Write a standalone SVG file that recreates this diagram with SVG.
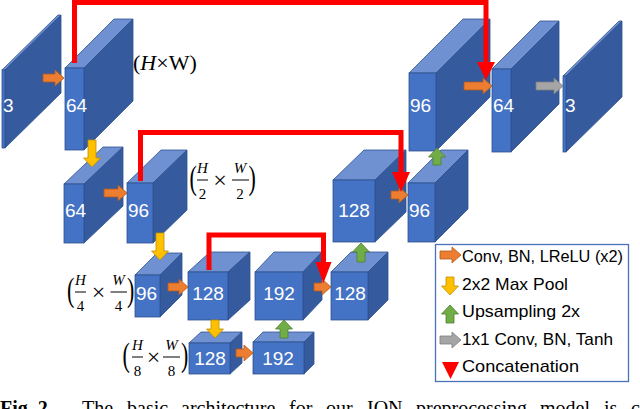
<svg xmlns="http://www.w3.org/2000/svg" width="640" height="409" viewBox="0 0 640 409">
<style>
.f{fill:#4472C4;stroke:#2F528F;stroke-width:0.8}
.t{fill:#6F91D2;stroke:#2F528F;stroke-width:0.8}
.s{fill:#355B9E;stroke:#2F528F;stroke-width:0.8}
.lb{font-family:"Liberation Sans",Arial,sans-serif;font-size:19px;fill:#FFFFFF}
.m{font-family:"Liberation Serif","Times New Roman",serif;fill:#000000}
.i{font-style:italic}
.p{font-family:"Liberation Serif","Times New Roman",serif;fill:#000000;font-size:22px}
.or{fill:#ED7D31;stroke:#AE5A21;stroke-width:0.8}
.ye{fill:#FFC000;stroke:#BF9000;stroke-width:0.8}
.gr{fill:#70AD47;stroke:#507E32;stroke-width:0.8}
.gy{fill:#A5A5A5;stroke:#7F7F7F;stroke-width:0.8}
.red{fill:none;stroke:#FF0000;stroke-width:5}
.rh{fill:#FF0000}
.bar{stroke:#000;stroke-width:1}
.lg{font-family:"Liberation Sans",Arial,sans-serif;font-size:17px;fill:#000}
.cap{font-family:"Liberation Serif","Times New Roman",serif;font-size:20px;fill:#000}
</style>

<g id="nodes">
<g id="b1"><polygon class="t" points="2,70 58,15 61,15 5,70"/><polygon class="s" points="5,70 61,15 61,93 5,148"/><rect class="f" x="2" y="70" width="3" height="78"/><text class="lb" x="3" y="112">3</text></g>
<g id="b2"><polygon class="t" points="65,68 114,19 133,19 84,68"/><polygon class="s" points="84,68 133,19 133,101 84,150"/><rect class="f" x="65" y="68" width="19" height="82"/><text class="lb" x="66" y="112">64</text></g>
<g id="b3"><polygon class="t" points="64,184 103,147 123,147 84,184"/><polygon class="s" points="84,184 123,147 123,206 84,243"/><rect class="f" x="64" y="184" width="20" height="59"/><text class="lb" x="65" y="217">64</text></g>
<g id="b4"><polygon class="t" points="127,183 161,150 187,150 153,183"/><polygon class="s" points="153,183 187,150 187,210 153,243"/><rect class="f" x="127" y="183" width="26" height="60"/><text class="lb" x="128" y="217">96</text></g>
<g id="b5"><polygon class="t" points="135,275 157,253 182,253 160,275"/><polygon class="s" points="160,275 182,253 182,295 160,317"/><rect class="f" x="135" y="275" width="25" height="42"/><text class="lb" x="136" y="300">96</text></g>
<g id="b6"><polygon class="t" points="188,272 210,252 250,252 228,272"/><polygon class="s" points="228,272 250,252 250,300 228,320"/><rect class="f" x="188" y="272" width="40" height="48"/><text class="lb" x="208" y="300" text-anchor="middle">128</text></g>
<g id="b7"><polygon class="t" points="255,272 274,252 322,252 303,272"/><polygon class="s" points="303,272 322,252 322,300 303,320"/><rect class="f" x="255" y="272" width="48" height="48"/><text class="lb" x="279" y="300" text-anchor="middle">192</text></g>
<g id="b8"><polygon class="t" points="331,272 351,252 388,252 368,272"/><polygon class="s" points="368,272 388,252 388,300 368,320"/><rect class="f" x="331" y="272" width="37" height="48"/><text class="lb" x="350" y="300" text-anchor="middle">128</text></g>
<g id="b9"><polygon class="t" points="333,180 364,150 406,150 375,180"/><polygon class="s" points="375,180 406,150 406,212 375,242"/><rect class="f" x="333" y="180" width="42" height="62"/><text class="lb" x="354" y="217" text-anchor="middle">128</text></g>
<g id="b10"><polygon class="t" points="408,183 441,150 468,150 435,183"/><polygon class="s" points="435,183 468,150 468,209 435,242"/><rect class="f" x="408" y="183" width="27" height="59"/><text class="lb" x="409" y="217">96</text></g>
<g id="b11"><polygon class="t" points="409,73 463,19 490,19 436,73"/><polygon class="s" points="436,73 490,19 490,97 436,151"/><rect class="f" x="409" y="73" width="27" height="78"/><text class="lb" x="410" y="112">96</text></g>
<g id="b12"><polygon class="t" points="492,69 540,21 559,21 511,69"/><polygon class="s" points="511,69 559,21 559,104 511,152"/><rect class="f" x="492" y="69" width="19" height="83"/><text class="lb" x="493" y="112">64</text></g>
<g id="b13"><polygon class="t" points="563,76 619,21 622,21 566,76"/><polygon class="s" points="566,76 622,21 622,97 566,152"/><rect class="f" x="563" y="76" width="3" height="76"/><text class="lb" x="565" y="112">3</text></g>
<g id="b14"><polygon class="t" points="189,343 201,332 242,332 230,343"/><polygon class="s" points="230,343 242,332 242,363 230,374"/><rect class="f" x="189" y="343" width="41" height="31"/><text class="lb" x="210" y="365" text-anchor="middle">128</text></g>
<g id="b15"><polygon class="t" points="253,342 263,332 314,332 304,342"/><polygon class="s" points="304,342 314,332 314,364 304,374"/><rect class="f" x="253" y="342" width="51" height="32"/><text class="lb" x="278" y="365" text-anchor="middle">192</text></g>
</g>

<g id="dims">
<text class="m" x="133" y="70" font-size="22">(<tspan class="i">H</tspan>×W)</text>
<g id="d2">
<text class="p" transform="translate(189.5,189) scale(1,1.5)">(</text>
<text class="m i" x="202.5" y="173" font-size="15" text-anchor="middle">H</text>
<line class="bar" x1="197" y1="180" x2="208" y2="180"/>
<text class="m" x="202.5" y="199" font-size="15" text-anchor="middle">2</text>
<text class="m" x="220" y="188" font-size="24" text-anchor="middle">×</text>
<text class="m i" x="240" y="173" font-size="15" text-anchor="middle">W</text>
<line class="bar" x1="232" y1="180" x2="249" y2="180"/>
<text class="m" x="240" y="199" font-size="15" text-anchor="middle">2</text>
<text class="p" transform="translate(248.5,189) scale(1,1.5)">)</text>
</g>
<g id="d4">
<text class="p" transform="translate(67,301) scale(1,1.5)">(</text>
<text class="m i" x="80.5" y="285" font-size="15" text-anchor="middle">H</text>
<line class="bar" x1="75" y1="292" x2="86" y2="292"/>
<text class="m" x="80.5" y="311" font-size="15" text-anchor="middle">4</text>
<text class="m" x="98.5" y="300" font-size="24" text-anchor="middle">×</text>
<text class="m i" x="118.5" y="285" font-size="15" text-anchor="middle">W</text>
<line class="bar" x1="110.5" y1="292" x2="127" y2="292"/>
<text class="m" x="118.5" y="311" font-size="15" text-anchor="middle">4</text>
<text class="p" transform="translate(127,301) scale(1,1.5)">)</text>
</g>
<g id="d8">
<text class="p" transform="translate(122.5,366) scale(1,1.5)">(</text>
<text class="m i" x="137.5" y="350" font-size="15" text-anchor="middle">H</text>
<line class="bar" x1="132" y1="357" x2="143" y2="357"/>
<text class="m" x="137.5" y="376" font-size="15" text-anchor="middle">8</text>
<text class="m" x="153.5" y="365" font-size="24" text-anchor="middle">×</text>
<text class="m i" x="171.5" y="350" font-size="15" text-anchor="middle">W</text>
<line class="bar" x1="163" y1="357" x2="180" y2="357"/>
<text class="m" x="171.5" y="376" font-size="15" text-anchor="middle">8</text>
<text class="p" transform="translate(181,366) scale(1,1.5)">)</text>
</g>
</g>

<g id="connectors">
<path class="or" d="M43,74 H55 V70 L64,78 L55,86 V82 H43 Z"/>
<path class="or" d="M104,189 H118 V185 L127,193 L118,201 V197 H104 Z"/>
<path class="or" d="M168,283 H179 V279 L188,287 L179,295 V291 H168 Z"/>
<path class="or" d="M314,283 H322 V279 L331,287 L322,295 V291 H314 Z"/>
<path class="or" d="M236,349 H244 V345 L253,353 L244,361 V357 H236 Z"/>
<path class="or" d="M391,191 H399 V187 L408,195 L399,203 V199 H391 Z"/>
<path class="or" d="M464,82 H483 V78 L492,86 L483,94 V90 H464 Z"/>
<path class="gy" d="M536,82 H554 V78 L563,86 L554,94 V90 H536 Z"/>
<path class="ye" d="M88,140 V158 H83.5 L92,167 L100.5,158 H96 V140 Z"/>
<path class="ye" d="M156,233 V251 H151.5 L160,260 L168.5,251 H164 V233 Z"/>
<path class="ye" d="M211,320 V329 H206.5 L215,338 L223.5,329 H219 V320 Z"/>
<path class="gr" d="M280,338 V329 H275.5 L284,320 L292.5,329 H288 V338 Z"/>
<path class="gr" d="M357,262 V252 H352.5 L361,243 L369.5,252 H365 V262 Z"/>
<path class="gr" d="M433,165 V157 H428.5 L437,148 L445.5,157 H441 V165 Z"/>
<path class="red" d="M74.5,63 V2.5 H486 V64"/>
<polygon class="rh" points="477,62 495,62 486,80"/>
<path class="red" d="M140.5,181 V132.5 H401 V174"/>
<polygon class="rh" points="392,172 410,172 401,192"/>
<path class="red" d="M209,270 V235 H323.5 V264"/>
<polygon class="rh" points="315.5,262 331.5,262 323.5,283"/>
</g>

<g id="legend">
<rect x="435.5" y="244.5" width="193" height="137" fill="#FFFFFF" stroke="#4A72B8" stroke-width="1.3"/>
<path class="or" d="M440,251 H452 V247 L461,255 L452,263 V259 H440 Z"/>
<text class="lg" x="462" y="262" textLength="161" lengthAdjust="spacingAndGlyphs">Conv, BN, LReLU (x2)</text>
<path class="ye" d="M446,277 V286 H441.5 L450,295 L458.5,286 H454 V277 Z"/>
<text class="lg" x="462" y="290" textLength="106" lengthAdjust="spacingAndGlyphs">2x2 Max Pool</text>
<path class="gr" d="M446,323 V314 H441.5 L450,305 L458.5,314 H454 V323 Z"/>
<text class="lg" x="462" y="317" textLength="118" lengthAdjust="spacingAndGlyphs">Upsampling 2x</text>
<path class="gy" d="M440,336 H452 V332 L461,340 L452,348 V344 H440 Z"/>
<text class="lg" x="462" y="345" textLength="151" lengthAdjust="spacingAndGlyphs">1x1 Conv, BN, Tanh</text>
<polygon class="rh" points="442,362 459,362 450.5,379"/>
<text class="lg" x="462" y="372" textLength="117" lengthAdjust="spacingAndGlyphs">Concatenation</text>
</g>

<text class="cap" y="415"><tspan x="0" font-weight="bold">Fig. 2.</tspan><tspan x="82">The</tspan><tspan x="127">basic</tspan><tspan x="181">architecture</tspan><tspan x="289">for</tspan><tspan x="326">our</tspan><tspan x="367">ION</tspan><tspan x="416">preprocessing</tspan><tspan x="540">model</tspan><tspan x="604">is</tspan><tspan x="631">c</tspan></text>
</svg>
